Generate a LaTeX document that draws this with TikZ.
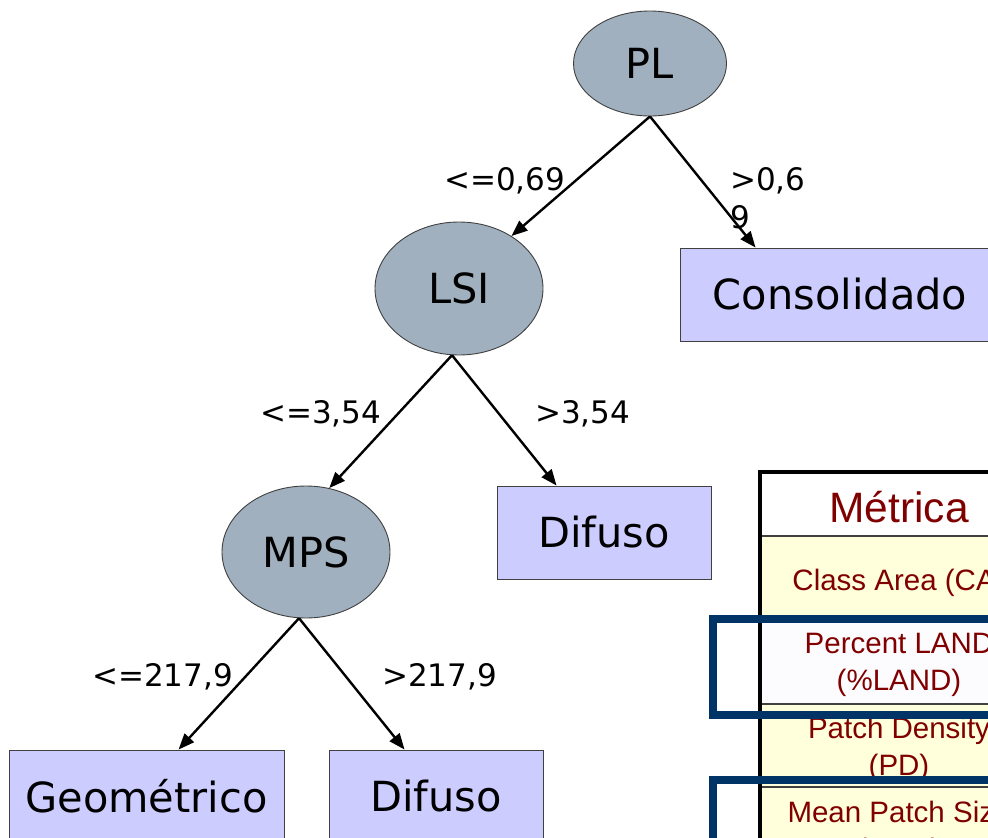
\documentclass[tikz,border=0pt]{standalone}
\usepackage{fontspec}
\setmainfont{DejaVu Sans}
\newfontfamily\tabfont{Liberation Sans}
\usetikzlibrary{shapes.geometric,arrows.meta}
\definecolor{nodegray}{RGB}{161,176,190}
\definecolor{leafblue}{RGB}{204,204,255}
\definecolor{edgegray}{RGB}{64,64,64}
\definecolor{navyframe}{RGB}{0,51,102}
\definecolor{rowyellow}{RGB}{255,255,220}
\definecolor{rowwhite}{RGB}{252,252,254}
\definecolor{maroontext}{RGB}{128,0,0}
\tikzset{
  decision/.style={ellipse, draw=edgegray, line width=0.9pt, fill=nodegray, inner sep=0pt,
    font=\fontsize{41.5}{50}\selectfont},
  leaf/.style={rectangle, draw=edgegray, line width=0.9pt, fill=leafblue, inner sep=0pt,
    minimum height=93pt, font=\fontsize{41.5}{50}\selectfont},
  branch/.style={-{Triangle[length=16pt,width=12.5pt]}, line width=2.4pt, black},
  cond/.style={inner sep=0pt, font=\fontsize{31}{38}\selectfont, anchor=base west},
  celltext/.style={inner sep=0pt, text=maroontext, anchor=base,
    font=\tabfont\fontsize{29.5}{37}\selectfont},
  headtext/.style={inner sep=0pt, text=maroontext, anchor=base,
    font=\tabfont\fontsize{42.5}{50}\selectfont},
  rowline/.style={draw=edgegray, line width=1.5pt},
  highlight/.style={draw=navyframe, line width=7.5pt}
}
\begin{document}
\begin{tikzpicture}[x=1pt,y=-1pt]
\useasboundingbox (0,0) rectangle (988,838);
\clip (0,0) rectangle (988,838);
\fill[white] (0,0) rectangle (988,838);

% ---- table (partly visible) ----
\fill[white] (760,472) rectangle (1040,536);
\fill[rowyellow] (760,536) rectangle (1040,620);
\fill[rowwhite] (760,620) rectangle (1040,704);
\fill[rowyellow] (760,704) rectangle (1040,900);
\draw[rowline] (760,536) -- (1040,536);
\draw[rowline] (760,620) -- (1040,620);
\draw[rowline] (760,704) -- (1040,704);
\draw[rowline] (760,787) -- (1040,787);
\draw[black, line width=4pt] (760,900) -- (760,472) -- (1040,472);

\node[headtext] (hdr) at (899,522) {Métrica};
\node[celltext] (ca) at (899,590) {Class Area (CA)};
\node[celltext] (plandA) at (899,653) {Percent LAND};
\node[celltext] (plandB) at (899,690) {(\%LAND)};
\node[celltext] (pdA) at (899,738) {Patch Density};
\node[celltext] (pdB) at (899,775) {(PD)};
\node[celltext] (mpsA) at (899,822) {Mean Patch Size};
\node[celltext] (mpsB) at (899,859) {(MPS)};

\draw[highlight] (713,619) rectangle (1100,715);
\draw[highlight] (713,780) rectangle (1100,950);

% ---- decision tree ----
\node[decision, minimum width=153pt, minimum height=105pt] (PL) at (650,63.5) {PL};
\node[decision, minimum width=168pt, minimum height=133pt] (LSI) at (459,288.5) {LSI};
\node[decision, minimum width=168pt, minimum height=132pt] (MPS) at (306,552) {MPS};
\node[leaf, minimum width=320pt] (Cons) at (840,294.5) {Consolidado};
\node[leaf, minimum width=214pt] (Dif1) at (604,532.5) {Difuso};
\node[leaf, minimum width=275pt] (Geo) at (146.5,796.5) {Geométrico};
\node[leaf, minimum width=214pt] (Dif2) at (436,796.5) {Difuso};

\draw[branch] (PL.south) -- (LSI.45);
\draw[branch] (PL.south) -- ([xshift=76pt]Cons.north west);
\draw[branch] (LSI.264) -- (MPS.70);
\draw[branch] (LSI.264) -- ([xshift=60pt]Dif1.north west);
\draw[branch] (MPS.264) -- ([xshift=170pt]Geo.north west);
\draw[branch] (MPS.264) -- ([xshift=76pt]Dif2.north west);

\node[cond] (c1) at (444,190) {<=0,69};
\node[cond] (c2a) at (730,190) {>0,6};
\node[cond] (c2b) at (730,228) {9};
\node[cond] (c3) at (260,423) {<=3,54};
\node[cond] (c4) at (535,423) {>3,54};
\node[cond] (c5) at (92,686) {<=217,9};
\node[cond] (c6) at (382,686) {>217,9};
\end{tikzpicture}
\end{document}
